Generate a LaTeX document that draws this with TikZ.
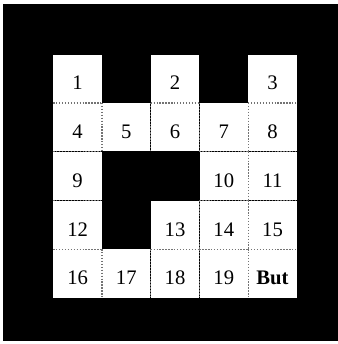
\documentclass[tikz,border=0pt]{standalone}
\usepackage{fontspec}
\setmainfont{Liberation Serif}
\usepackage{tikz}
\usetikzlibrary{positioning}

\begin{document}
\begin{tikzpicture}[x=0.75pt, y=-0.75pt, node distance=0pt,
    cell/.style={fill=white, inner sep=0pt, minimum size=36.15pt, text height=17pt, text depth=0pt, font=\fontsize{15.5}{18}\selectfont},
    wall/.style={black!55, line width=0.9pt, dash pattern=on 1pt off 1.2pt}]

    \useasboundingbox (0,0) rectangle (338,344);
    \fill[black] (3,4) rectangle (338,341);

    \node[cell] (c1) at (77.6,78.6) {1};
    \node[cell, below=of c1] (c4) {4};
    \node[cell, right=of c4] (c5) {5};
    \node[cell, right=of c5] (c6) {6};
    \node[cell, right=of c6] (c7) {7};
    \node[cell, right=of c7] (c8) {8};
    \node[cell, above=of c6] (c2) {2};
    \node[cell, above=of c8] (c3) {3};

    \node[cell, below=of c4] (c9) {9};
    \node[cell, below=of c7] (c10) {10};
    \node[cell, below=of c8] (c11) {11};

    \node[cell, below=of c9] (c12) {12};
    \node[cell, below=of c10] (c14) {14};
    \node[cell, left=of c14] (c13) {13};
    \node[cell, below=of c11] (c15) {15};

    \node[cell, below=of c12] (c16) {16};
    \node[cell, right=of c16] (c17) {17};
    \node[cell, right=of c17] (c18) {18};
    \node[cell, right=of c18] (c19) {19};
    \node[cell, right=of c19] (but) {\textbf{But}};

    \draw[wall] (c1.south west) -- (c1.south east);
    \draw[wall] (c2.south west) -- (c2.south east);
    \draw[wall] (c3.south west) -- (c3.south east);
    \draw[wall] (c4.south west) -- (c4.south east);
    \draw[wall] (c7.south west) -- (c7.south east);
    \draw[wall] (c8.south west) -- (c8.south east);
    \draw[wall] (c9.south west) -- (c9.south east);
    \draw[wall] (c10.south west) -- (c10.south east);
    \draw[wall] (c11.south west) -- (c11.south east);
    \draw[wall] (c12.south west) -- (c12.south east);
    \draw[wall] (c13.south west) -- (c13.south east);
    \draw[wall] (c14.south west) -- (c14.south east);
    \draw[wall] (c15.south west) -- (c15.south east);

    \draw[wall] (c4.north east) -- (c4.south east);
    \draw[wall] (c5.north east) -- (c5.south east);
    \draw[wall] (c6.north east) -- (c6.south east);
    \draw[wall] (c7.north east) -- (c7.south east);
    \draw[wall] (c10.north east) -- (c10.south east);
    \draw[wall] (c13.north east) -- (c13.south east);
    \draw[wall] (c14.north east) -- (c14.south east);
    \draw[wall] (c16.north east) -- (c16.south east);
    \draw[wall] (c17.north east) -- (c17.south east);
    \draw[wall] (c18.north east) -- (c18.south east);
    \draw[wall] (c19.north east) -- (c19.south east);

\end{tikzpicture}
\end{document}
